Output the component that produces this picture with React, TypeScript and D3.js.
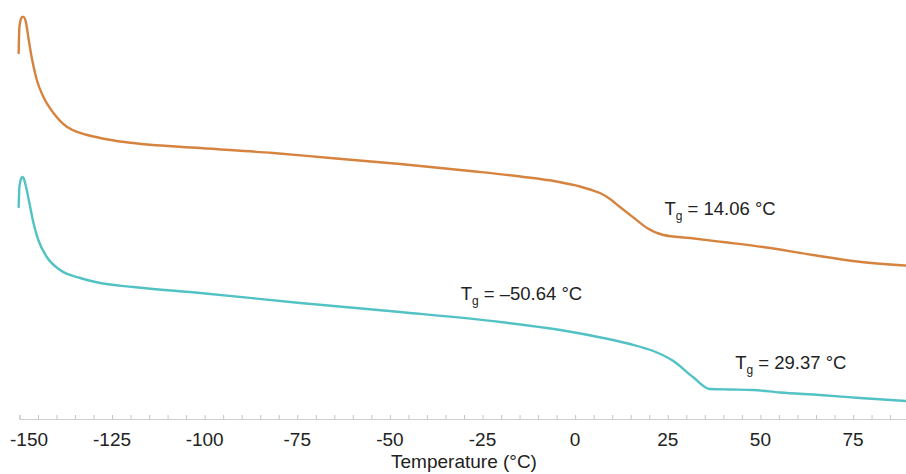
import React, { useEffect, useRef } from "react";
import * as d3 from "d3";

// Temperature (°C) and heat flow (arbitrary units)
const orangeT = [-150.2, -150.0, -149.3, -148.9, -148.2, -147.6, -146.7, -145.3, -143.5, -140.8, -137.1, -128.2, -119.3, -101.2, -81.5, -66.1, -47.2, -28.3, -14.8, -5.0, 1.3, 4.0, 6.7, 9.4, 12.1, 15.9, 19.4, 23.8, 31.0, 39.9, 50.7, 64.2, 76.1, 89.1];
const orangeV = [36.6, 39.2, 40.2, 40.2, 39.6, 38.2, 36.2, 33.9, 32.2, 30.6, 29.2, 28.1, 27.6, 27.1, 26.6, 26.1, 25.5, 24.8, 24.25, 23.75, 23.25, 22.95, 22.6, 22.0, 21.2, 20.1, 19.1, 18.4, 18.1, 17.7, 17.2, 16.4, 15.75, 15.35];

const tealT = [-150.2, -150.0, -149.3, -148.9, -148.2, -147.3, -146.2, -144.9, -142.6, -139.0, -133.6, -128.2, -119.3, -101.2, -74.2, -47.2, -20.2, -4.0, 7.6, 14.8, 21.1, 26.5, 31.8, 36.4, 41.8, 48.0, 55.3, 66.1, 76.9, 89.3];
const tealV = [21.2, 23.2, 24.2, 24.1, 23.2, 21.6, 19.6, 17.9, 16.2, 14.9, 14.1, 13.6, 13.2, 12.6, 11.6, 10.7, 9.7, 8.9, 8.1, 7.5, 6.8, 5.8, 4.2, 3.0, 2.95, 2.9, 2.65, 2.4, 2.1, 1.8];

const tickValues = d3.range(-150, 91, 5);
const labelValues = [-150, -125, -100, -75, -50, -25, 0, 25, 50, 75];

const annotations = [
  { sub: "g", rest: " = 14.06 °C", t: 24.1, v: 20.4 },
  { sub: "g", rest: " = –50.64 °C", t: -30.9, v: 11.9 },
  { sub: "g", rest: " = 29.37 °C", t: 43.2, v: 5.0 },
];

const W = 906;
const H = 474;

export default function App() {
  const ref = useRef<SVGSVGElement>(null);

  useEffect(() => {
    const svg = d3.select(ref.current);
    svg.selectAll("*").remove();

    const x = d3.scaleLinear().domain([-150, 90]).range([19.4, 908.6]);
    const y = d3.scaleLinear().domain([0, 41.9]).range([419, 0]);
    const font = "'Liberation Sans', Arial, Helvetica, sans-serif";

    // axis
    const axisG = svg.append("g").attr("transform", "translate(0,419)");
    const axis = d3
      .axisBottom(x)
      .tickValues(tickValues)
      .tickSize(-4)
      .tickFormat(() => "");
    axisG.call(axis);
    axisG.select(".domain").attr("stroke", "#cfcfcf").attr("stroke-width", 1.2);
    axisG.selectAll(".tick line").attr("stroke", "#c4c4c4").attr("stroke-width", 1);

    const lbl = svg.append("g").attr("font-family", font).attr("font-size", 19).attr("fill", "#222");
    lbl
      .selectAll("text")
      .data(labelValues)
      .join("text")
      .attr("x", (d) => (d === -150 ? 10 : x(d)))
      .attr("y", 446)
      .attr("text-anchor", (d) => (d === -150 ? "start" : "middle"))
      .text((d) => String(d));

    svg
      .append("text")
      .attr("x", x(-30))
      .attr("y", 468)
      .attr("text-anchor", "middle")
      .attr("font-family", font)
      .attr("font-size", 19)
      .attr("fill", "#222")
      .text("Temperature (°C)");

    const line = d3
      .line<[number, number]>()
      .x((d) => x(d[0]))
      .y((d) => y(d[1]))
      .curve(d3.curveMonotoneX);

    const series = [
      { t: orangeT, v: orangeV, color: "#D6833F" },
      { t: tealT, v: tealV, color: "#52C2C4" },
    ];
    series.forEach((s) => {
      const pts = s.t.map((t, i) => [t, s.v[i]] as [number, number]);
      svg
        .append("path")
        .attr("d", line(pts))
        .attr("fill", "none")
        .attr("stroke", s.color)
        .attr("stroke-width", 2.4)
        .attr("stroke-linejoin", "round")
        .attr("stroke-linecap", "round");
    });

    annotations.forEach((a) => {
      const tx = svg
        .append("text")
        .attr("x", x(a.t))
        .attr("y", y(a.v))
        .attr("font-family", font)
        .attr("font-size", 18.5)
        .attr("fill", "#222");
      tx.append("tspan").text("T");
      tx.append("tspan").attr("font-size", 12).attr("dy", 5).text(a.sub);
      tx.append("tspan").attr("dy", -5).text(a.rest);
    });
  }, []);

  return (
    <svg
      ref={ref}
      width={W}
      height={H}
      style={{ position: "absolute", left: 0, top: 0, background: "#fff" }}
    />
  );
}
